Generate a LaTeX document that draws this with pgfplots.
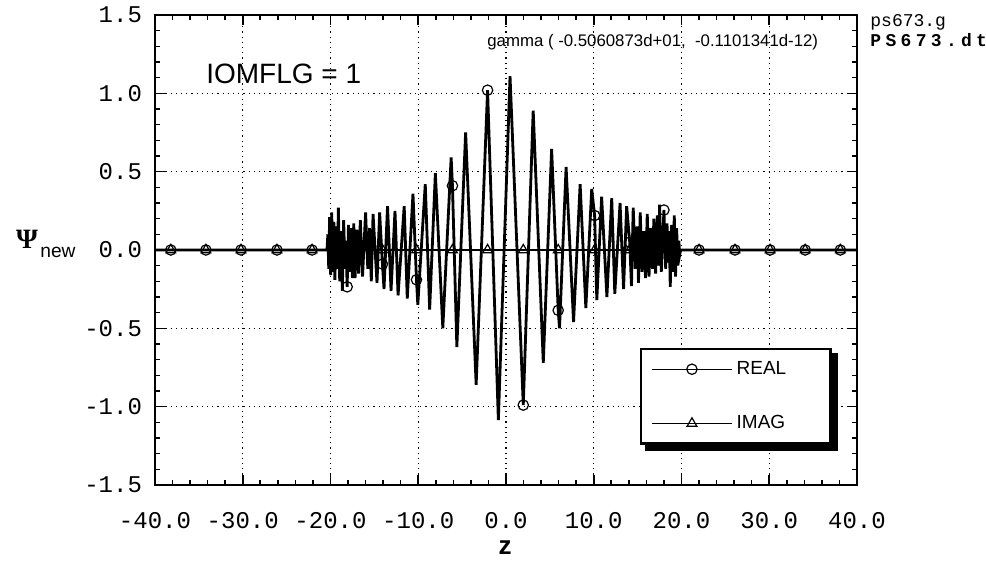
\documentclass[border=0pt]{standalone}
\usepackage{fontspec}
\setmainfont{Liberation Sans}
\setmonofont{Liberation Mono}
\newfontfamily\serifpsi{Liberation Serif}
\usepackage{pgfplots}
\pgfplotsset{compat=1.18}

\begin{document}
\begin{tikzpicture}
\begin{axis}[
  scale only axis, width=351pt, height=235pt,
  xmin=-40, xmax=40, ymin=-1.5, ymax=1.5,
  xtick={-40,-30,...,40},
  xticklabels={-40.0,-30.0,-20.0,-10.0,0.0,10.0,20.0,30.0,40.0},
  ytick={-1.5,-1,-0.5,0,0.5,1,1.5},
  yticklabels={-1.5,-1.0,-0.5,0.0,0.5,1.0,1.5},
  minor x tick num=4, minor y tick num=4,
  tick align=inside,
  major tick length=5pt, minor tick length=2.5pt,
  every tick/.style={black, line width=0.8pt},
  axis line style={line width=1.2pt},
  ticklabel style={font=\ttfamily\fontsize{12}{14}\selectfont},
  xticklabel style={yshift=-10pt},
  yticklabel style={xshift=-3pt},
  grid=major,
  major grid style={black, line width=0.6pt, dotted},
  legend style={name=leg, at={(0.691,0.2915)}, anchor=north west, draw=black, line width=1.2pt, fill=white,
    font=\fontsize{9.5}{11}\selectfont, inner xsep=5pt, inner ysep=4pt, row sep=15pt,
    cells={anchor=west}},
  legend image code/.code={\draw[mark repeat=2, mark phase=2, #1] plot coordinates {(0pt,0pt) (20pt,0pt) (40pt,0pt)};},
]
% REAL curve
\addplot[black, line width=1.4pt, forget plot] coordinates {
(-40,0) (-20.40,0)
(-20.30,0.10) (-20.20,-0.12) (-20.10,0.21) (-19.98,-0.16) (-19.86,0.24) (-19.74,-0.14) (-19.62,0.18) (-19.50,-0.19) (-19.36,0.15) (-19.22,-0.12) (-19.10,0.27) (-18.95,-0.20) (-18.80,0.12) (-18.65,-0.26) (-18.50,0.19) (-18.35,-0.12) (-18.25,0.06) (-18.10,-0.235) (-17.95,0.16) (-17.80,-0.14) (-17.65,0.14) (-17.50,-0.18) (-17.35,0.17) (-17.20,-0.18) (-17.00,0.13) (-16.80,-0.15) (-16.60,0.19) (-16.35,-0.17) (-16.00,0.24) (-15.75,-0.12) (-15.55,0.14) (-15.35,-0.20) (-15.15,0.23) (-14.70,-0.21) (-14.40,0.24) (-14.08,-0.09) (-13.90,-0.25) (-13.50,0.28) (-13.10,-0.26) (-12.65,0.25) (-12.30,-0.29) (-11.60,0.28) (-11.25,-0.31) (-10.60,0.36) (-10.20,-0.19) (-10.05,-0.35) (-9.20,0.42) (-8.70,-0.38) (-8.05,0.49) (-7.20,-0.50) (-6.25,0.59) (-6.10,0.41) (-5.60,-0.62) (-4.60,0.75) (-3.40,-0.86) (-2.10,1.02) (-0.87,-1.085) (0.46,1.11) (1.97,-0.99) (3.10,0.89) (4.25,-0.72) (5.20,0.645) (5.95,-0.385) (6.10,-0.50) (6.85,0.53) (7.70,-0.46) (8.45,0.42) (9.10,-0.37) (9.77,0.39) (10.10,0.22) (10.35,-0.32) (10.90,0.34) (11.50,-0.30) (12.05,0.33) (12.40,-0.28) (13.00,0.30) (13.40,-0.25) (13.75,0.28) (14.10,0.05) (14.30,-0.23) (14.50,0.27) (14.75,-0.12) (14.95,0.15) (15.10,-0.21) (15.30,0.24) (15.50,-0.14) (15.70,0.12) (15.90,-0.18) (16.10,0.23) (16.30,-0.17) (16.50,0.14) (16.70,-0.12) (16.85,0.20) (17.05,-0.15) (17.25,0.22) (17.40,-0.10) (17.50,0.29) (17.70,-0.14) (18.00,0.255) (18.20,-0.12) (18.35,0.17) (18.50,-0.08) (18.60,0.12) (18.72,-0.235) (18.88,0.16) (19.02,-0.14) (19.18,0.22) (19.32,-0.17) (19.45,0.14) (19.58,-0.10) (19.70,0.06) (19.80,-0.03) (19.90,0) (40,0)
};
% IMAG curve
\addplot[black, line width=1.4pt, forget plot] coordinates {(-40,0) (40,0)};
% REAL markers
\addplot[black, only marks, mark=o, mark size=2.6pt, mark options={line width=0.6pt}, forget plot] coordinates {
(-38.2,0) (-34.2,0) (-30.2,0) (-26.1,0) (-22.1,0) (-18.10,-0.235) (-14.08,-0.09) (-10.20,-0.19) (-6.10,0.41) (-2.10,1.02) (1.97,-0.99) (5.95,-0.385) (10.10,0.22) (14.10,0.05) (18.00,0.255) (22.0,0) (26.1,0) (30.1,0) (34.1,0) (38.1,0)
};
% IMAG markers
\addplot[black, only marks, mark=triangle, mark size=2.8pt, mark options={line width=0.6pt}, forget plot] coordinates {
(-38.2,0) (-34.2,0) (-30.2,0) (-26.1,0) (-22.1,0) (-18.10,0) (-14.08,0) (-10.20,0) (-6.10,0) (-2.10,0) (1.97,0) (5.95,0) (10.10,0) (14.10,0) (18.00,0) (22.0,0) (26.1,0) (30.1,0) (34.1,0) (38.1,0)
};
\addlegendimage{black, line width=0.7pt, mark=o, mark size=2.6pt, mark options={solid, line width=0.6pt}}
\addlegendentry{REAL\hspace*{15pt}}
\addlegendimage{black, line width=0.7pt, mark=triangle, mark size=2.8pt, mark options={solid, line width=0.6pt}}
\addlegendentry{IMAG\hspace*{15pt}}
\node[anchor=west, inner sep=0pt, font=\fontsize{14}{16}\selectfont] at (axis cs:-34.2,1.122) {IOMFLG = 1};
\node[anchor=west, inner sep=0pt, font=\fontsize{8.4}{10}\selectfont] at (axis cs:-2.17,1.325) {gamma ( -0.5060873d+01, \ -0.1101341d-12)};
\end{axis}
\draw[black, line width=3pt] ([xshift=2.5pt,yshift=-1.5pt]leg.south west) -- ([xshift=1.5pt,yshift=-1.5pt]leg.south east) -- ([xshift=1.5pt,yshift=-2.5pt]leg.north east);
\node[anchor=west, inner sep=0pt, font=\ttfamily\fontsize{9}{10}\selectfont] at (357.5pt,231.5pt) {ps673.g};
\node[anchor=west, inner sep=0pt, font=\ttfamily\bfseries\fontsize{9}{10}\selectfont\addfontfeature{LetterSpace=24}] at (357.5pt,222.5pt) {PS673.dt};
\node[inner sep=0pt, font=\serifpsi\bfseries\fontsize{14}{16}\selectfont] at (-64pt,123pt) {Ψ};
\node[anchor=west, inner sep=0pt, font=\fontsize{9.6}{11}\selectfont] at (-57.5pt,116.5pt) {new};
\node[inner sep=0pt, font=\bfseries\fontsize{13}{15}\selectfont] at (175pt,-31.5pt) {z};
\pgfresetboundingbox
\path (-77.5pt,-40pt) rectangle (415.5pt,242.5pt);
\end{tikzpicture}
\end{document}
